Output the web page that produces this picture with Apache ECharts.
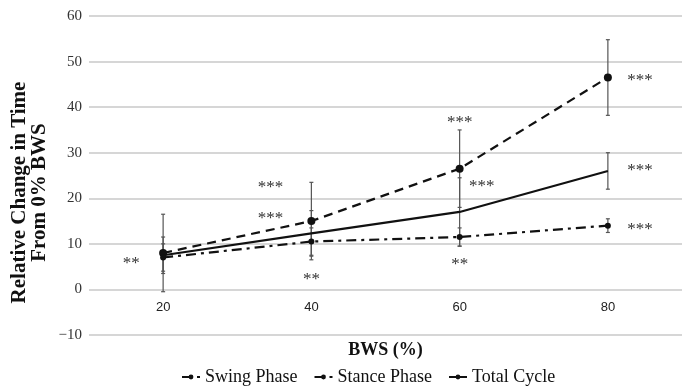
<!DOCTYPE html>
<html>
<head>
<meta charset="utf-8">
<script src="https://cdn.jsdelivr.net/npm/echarts@6/dist/echarts.min.js"></script>
<style>
  html, body { margin: 0; padding: 0; background: #fff; }
  #chart { width: 686px; height: 391px; }
</style>
</head>
<body>
<div id="chart"></div>
<script>
var categories = ['20', '40', '60', '80'];
var swing = [8, 15, 26.5, 46.5];
var stance = [7, 10.5, 11.5, 14];
var total = [7.5, 12.3, 17, 26];
// error bar half widths
var swingErr = [8.5, 8.5, 8.5, 8.3];
var stanceErr = [3, 3, 2, 1.5];
var totalErr = [4, 5, 7.5, 4];
// significance marks: [category index, y value, text, x shift in px]
var sigMarks = [
    [0, 6.3, '**', -32],
    [1, 23, '***', -41],
    [1, 16.3, '***', -41],
    [1, 2.9, '**', 0],
    [2, 37.2, '***', 0],
    [2, 23.3, '***', 22],
    [2, 6.1, '**', 0],
    [3, 46.5, '***', 32],
    [3, 26.8, '***', 32],
    [3, 13.8, '***', 32]
];

var serif = '"Liberation Serif", "DejaVu Serif", serif';

function errData(vals, errs){
    return vals.map(function(v, i){ return [i, v - errs[i], v + errs[i]]; });
}

var errRows = errData(swing, swingErr).concat(errData(stance, stanceErr), errData(total, totalErr));

var myChart = echarts.init(document.getElementById('chart'));
var option = {
    animation: false,
    grid: { left: 89, right: 4, top: 16, bottom: 56, containLabel: false, outerBoundsMode: 'none' },
    legend: {
        bottom: 0,
        left: 176,
        itemWidth: 18,
        itemHeight: 6,
        itemGap: 16,
        textStyle: { fontFamily: serif, fontSize: 18, color: '#111' },
        data: ['Swing Phase', 'Stance Phase', 'Total Cycle']
    },
    xAxis: {
        type: 'category',
        data: categories,
        position: 'bottom',
        offset: -46,
        axisLine: { show: false, onZero: false },
        axisTick: { show: false },
        axisLabel: { fontFamily: '"Liberation Sans", Arial, sans-serif', fontSize: 13, color: '#222', margin: 12 },
        name: 'BWS (%)',
        nameLocation: 'middle',
        nameGap: 52,
        nameMoveOverlap: false,
        nameTextStyle: { fontFamily: serif, fontSize: 18, fontWeight: 'bold', color: '#111' }
    },
    yAxis: {
        type: 'value',
        min: -10,
        max: 60,
        interval: 10,
        axisLine: { show: false },
        axisTick: { show: false },
        splitLine: { lineStyle: { color: '#c8c8c8', width: 1.5 } },
        axisLabel: {
            fontFamily: serif, fontSize: 15, color: '#333', margin: 7,
            formatter: function(v){ return v < 0 ? '\u2212' + Math.abs(v) : String(v); }
        },
        name: 'Relative Change in Time\nFrom 0% BWS',
        nameLocation: 'middle',
        nameGap: 39,
        nameMoveOverlap: false,
        nameTextStyle: { fontFamily: serif, fontSize: 21, fontWeight: 'bold', color: '#111', lineHeight: 20, padding: [0, 34, 0, 0] }
    },
    series: [
        {
            name: 'Swing Phase',
            type: 'line',
            data: swing,
            symbol: 'circle',
            symbolSize: 8,
            itemStyle: { color: '#111' },
            lineStyle: { color: '#111', width: 2.2, type: [9, 6] },
            z: 3
        },
        {
            name: 'Stance Phase',
            type: 'line',
            data: stance,
            symbol: 'circle',
            symbolSize: 6,
            itemStyle: { color: '#111' },
            lineStyle: { color: '#111', width: 2.2, type: [10, 5, 3, 5] },
            z: 3
        },
        {
            name: 'Total Cycle',
            type: 'line',
            data: total,
            symbol: 'none',
            itemStyle: { color: '#111' },
            lineStyle: { color: '#111', width: 2.2 },
            z: 3
        },
        {
            type: 'custom',
            name: 'errors',
            data: errRows,
            z: 2,
            renderItem: function(params, api){
                var lo = api.coord([api.value(0), api.value(1)]);
                var hi = api.coord([api.value(0), api.value(2)]);
                var st = { stroke: '#555', lineWidth: 1.2 };
                return {
                    type: 'group',
                    children: [
                        { type: 'line', shape: { x1: lo[0], y1: lo[1], x2: hi[0], y2: hi[1] }, style: st },
                        { type: 'line', shape: { x1: lo[0] - 2, y1: lo[1], x2: lo[0] + 2, y2: lo[1] }, style: st },
                        { type: 'line', shape: { x1: hi[0] - 2, y1: hi[1], x2: hi[0] + 2, y2: hi[1] }, style: st }
                    ]
                };
            }
        },
        {
            type: 'custom',
            name: 'sig',
            data: sigMarks.map(function(m){ return [m[0], m[1]]; }),
            z: 4,
            renderItem: function(params, api){
                var m = sigMarks[params.dataIndex];
                var p = api.coord([api.value(0), api.value(1)]);
                return {
                    type: 'text',
                    x: p[0] + m[3],
                    y: p[1] + 3,
                    style: {
                        text: m[2],
                        align: 'center',
                        verticalAlign: 'middle',
                        font: '17px ' + serif,
                        fill: '#333'
                    }
                };
            }
        }
    ]
};
myChart.setOption(option);
</script>
</body>
</html>
